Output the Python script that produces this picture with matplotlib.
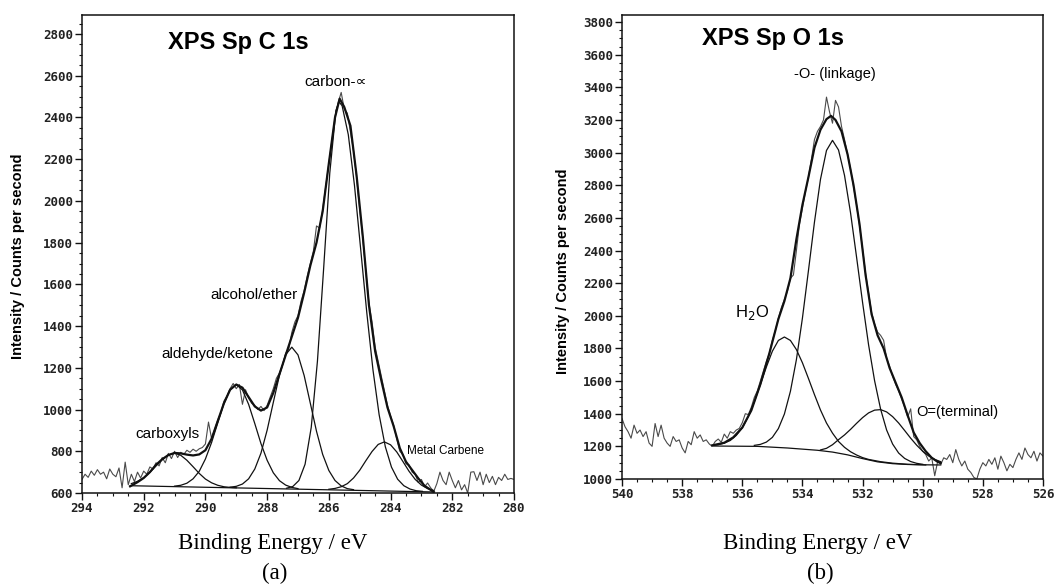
import numpy as np
import matplotlib
matplotlib.use('Agg')
import matplotlib.pyplot as plt
from matplotlib.ticker import MultipleLocator

# ---------------- panel (a): C 1s ----------------
c_raw_x = np.round(np.linspace(294.0, 280.0, 141), 1)
c_raw_y = [
    665, 690, 675, 705, 685, 712, 690, 700, 668, 715,
    690, 678, 720, 625, 748, 640, 690, 655, 700, 672,
    705, 690, 725, 715, 745, 730, 770, 745, 790, 765,
    800, 770, 795, 785, 805, 795, 810, 800, 812, 818,
    835, 940, 860, 905, 950, 985, 1040, 1065, 1100, 1125,
    1100, 1120, 1025, 1095, 1055, 1030, 1020, 1000, 1015, 995,
    1020, 1060, 1100, 1150, 1175, 1215, 1270, 1290, 1370, 1420,
    1450, 1520, 1570, 1640, 1700, 1760, 1880, 1870, 1960, 2070,
    2180, 2290, 2400, 2470, 2520, 2440, 2420, 2330, 2240, 2110,
    1960, 1820, 1660, 1510, 1420, 1300, 1230, 1160, 1090, 1020,
    970, 925, 860, 800, 785, 740, 735, 700, 690, 650,
    665, 630, 648, 625, 608, 645, 700, 660, 640, 700,
    660, 625, 660, 615, 640, 600, 700, 702, 660, 700,
    640, 690, 650, 680, 640, 675, 660, 690, 665, 670,
    665,
]

c_env_x = [292.44, 292.2, 292.0, 291.8, 291.6, 291.4, 291.2, 291.0, 290.8, 290.6,
           290.4, 290.2, 290.0, 289.8, 289.6, 289.4, 289.2, 289.0, 288.8, 288.6,
           288.4, 288.2, 288.0, 287.8, 287.6, 287.4, 287.2, 287.0, 286.8, 286.6,
           286.4, 286.2, 286.0, 285.8, 285.65, 285.5, 285.3, 285.1, 284.9, 284.7,
           284.5, 284.3, 284.1, 283.9, 283.7, 283.5, 283.3, 283.1, 282.9, 282.6]
c_env_y = [632, 652, 672, 700, 735, 762, 782, 792, 790, 784,
           780, 785, 805, 860, 945, 1030, 1095, 1120, 1105, 1060,
           1015, 995, 1010, 1080, 1170, 1260, 1350, 1440, 1560, 1690,
           1800, 1950, 2180, 2400, 2490, 2450, 2360, 2120, 1830, 1500,
           1280, 1140, 1010, 920, 815, 750, 710, 670, 635, 605]

c_base_x = [292.44, 282.6]
c_base_y = [635, 605]

carboxyl_x = [292.4, 292.2, 292.0, 291.8, 291.6, 291.4, 291.2, 291.0, 290.8, 290.6,
              290.4, 290.2, 290.0, 289.8, 289.6, 289.4, 289.2, 289.0]
carboxyl_y = [645, 656, 673, 699, 730, 760, 782, 791, 781, 757,
              726, 694, 667, 649, 637, 630, 627, 625]

aldehyde_x = [291.0, 290.8, 290.6, 290.4, 290.2, 290.0, 289.8, 289.6, 289.4, 289.2,
              289.0, 288.8, 288.6, 288.4, 288.2, 288.0, 287.8, 287.6, 287.4, 287.2, 287.0]
aldehyde_y = [633, 637, 647, 668, 704, 763, 842, 936, 1028, 1095,
              1120, 1094, 1025, 933, 837, 757, 697, 659, 638, 627, 621]

alcohol_x = [289.2, 289.0, 288.8, 288.6, 288.4, 288.2, 288.0, 287.8, 287.6, 287.4,
             287.2, 287.0, 286.8, 286.6, 286.4, 286.2, 286.0, 285.8, 285.6, 285.4, 285.2]
alcohol_y = [628, 632, 643, 668, 715, 791, 901, 1034, 1165, 1263,
             1299, 1262, 1163, 1030, 896, 785, 708, 660, 634, 621, 616]

carbon_x = [287.37, 287.17, 286.97, 286.77, 286.57, 286.37, 286.17, 285.97, 285.77, 285.67,
            285.57, 285.37, 285.17, 284.97, 284.77, 284.57, 284.37, 284.17, 283.97, 283.77,
            283.57, 283.37, 283.17, 282.97]
carbon_y = [623, 631, 660, 738, 915, 1231, 1673, 2133, 2434, 2475,
            2456, 2318, 2075, 1771, 1464, 1190, 975, 822, 724, 666,
            635, 619, 611, 608]

carbene_x = [286.0, 285.8, 285.6, 285.4, 285.2, 285.0, 284.8, 284.6, 284.4, 284.2,
             284.0, 283.8, 283.6, 283.4, 283.2, 283.0, 282.8, 282.6]
carbene_y = [618, 622, 630, 645, 672, 709, 755, 799, 833, 845,
             831, 797, 751, 704, 665, 638, 621, 612]

c_xticks = [294, 292, 290, 288, 286, 284, 282, 280]
c_yticks = [600, 800, 1000, 1200, 1400, 1600, 1800, 2000, 2200, 2400, 2600, 2800]

# ---------------- panel (b): O 1s ----------------
o_raw_x = np.round(np.linspace(540.0, 526.0, 141), 1)
o_raw_y = [
    1370, 1320, 1290, 1250, 1330, 1280, 1300, 1260, 1290, 1220,
    1200, 1340, 1260, 1330, 1250, 1220, 1200, 1260, 1230, 1240,
    1190, 1160, 1230, 1210, 1290, 1250, 1270, 1230, 1240, 1215,
    1200, 1230, 1245, 1225, 1275, 1250, 1290, 1280, 1300, 1310,
    1345, 1400, 1395, 1440, 1500, 1540, 1600, 1660, 1720, 1770,
    1850, 1910, 1985, 2050, 2100, 2150, 2230, 2250, 2400, 2560,
    2660, 2760, 2850, 2960, 3080, 3130, 3160, 3200, 3340, 3250,
    3180, 3320, 3280, 3160, 3080, 2990, 2900, 2790, 2680, 2550,
    2410, 2260, 2140, 2020, 1950, 1900, 1880, 1850, 1740, 1690,
    1630, 1580, 1540, 1490, 1440, 1380, 1430, 1260, 1240, 1200,
    1170, 1150, 1110, 1130, 1020, 1110, 1090, 1130, 1120, 1150,
    1100, 1180, 1120, 1080, 1110, 1060, 1040, 1010, 1000, 1060,
    1100, 1080, 1120, 1090, 1130, 1060, 1140, 1100, 1050, 1090,
    1070, 1120, 1160, 1120, 1190, 1150, 1130, 1170, 1110, 1160,
    1140,
]

o_env_x = [537.0, 536.6, 536.3, 536.0, 535.7, 535.4, 535.1, 534.8, 534.6, 534.4,
           534.2, 534.0, 533.8, 533.6, 533.4, 533.2, 533.05, 532.9, 532.7, 532.5,
           532.3, 532.1, 531.9, 531.7, 531.5, 531.3, 531.1, 530.9, 530.7, 530.5,
           530.3, 530.1, 529.9, 529.7, 529.5, 529.4]
o_env_y = [1206, 1222, 1255, 1315, 1420, 1580, 1770, 1980, 2090, 2230,
           2470, 2680, 2850, 3030, 3140, 3205, 3225, 3200, 3130, 2990,
           2800, 2560, 2250, 2010, 1880, 1800, 1680, 1590, 1500, 1390,
           1285, 1220, 1170, 1130, 1105, 1098]

o_base_x = [536.95, 535.5, 534.5, 533.5, 533.0, 532.5, 532.0, 531.5, 531.0, 530.5,
            530.0, 529.4]
o_base_y = [1202, 1200, 1190, 1176, 1165, 1148, 1125, 1105, 1094, 1089,
            1087, 1086]

water_x = [537.0, 536.8, 536.6, 536.4, 536.2, 536.0, 535.8, 535.6, 535.4, 535.2,
           535.0, 534.8, 534.6, 534.4, 534.2, 534.0, 533.8, 533.6, 533.4, 533.2,
           533.0, 532.8, 532.6, 532.4, 532.2, 532.0, 531.8, 531.4, 531.0, 530.5,
           530.0, 529.9]
water_y = [1206, 1210, 1220, 1236, 1267, 1314, 1383, 1473, 1578, 1686,
           1783, 1849, 1870, 1849, 1793, 1712, 1616, 1517, 1423, 1343,
           1281, 1230, 1194, 1167, 1147, 1131, 1120, 1106, 1097, 1090,
           1087, 1086]

linkage_x = [535.6, 535.4, 535.2, 535.0, 534.8, 534.6, 534.4, 534.2, 534.0, 533.8,
             533.6, 533.4, 533.2, 533.0, 532.8, 532.6, 532.4, 532.2, 532.0, 531.8,
             531.6, 531.4, 531.2, 531.0, 530.8, 530.6, 530.4, 530.2, 530.0]
linkage_y = [1206, 1212, 1226, 1255, 1309, 1398, 1537, 1732, 1986, 2277,
             2574, 2836, 3013, 3075, 3016, 2860, 2631, 2360, 2082, 1822,
             1602, 1428, 1300, 1214, 1159, 1126, 1107, 1096, 1090]

terminal_x = [533.4, 533.2, 533.0, 532.8, 532.6, 532.4, 532.2, 532.0, 531.8, 531.6,
              531.4, 531.2, 531.0, 530.8, 530.6, 530.4, 530.2, 530.0, 529.8, 529.6, 529.4]
terminal_y = [1178, 1188, 1210, 1241, 1270, 1304, 1341, 1376, 1405, 1422,
              1425, 1411, 1382, 1343, 1297, 1250, 1207, 1170, 1141, 1120, 1106]

o_xticks = [540, 538, 536, 534, 532, 530, 528, 526]
o_yticks = [1000, 1200, 1400, 1600, 1800, 2000, 2200, 2400, 2600, 2800,
            3000, 3200, 3400, 3600, 3800]

RAW = '#4a4a4a'
INK = '#111111'
SANS = ['Liberation Sans', 'DejaVu Sans']
SERIF = ['Liberation Serif', 'DejaVu Serif']


def style_axes(ax, xticks, yticks):
    ax.set_xticks(xticks)
    ax.set_yticks(yticks)
    ax.xaxis.set_minor_locator(MultipleLocator(0.5))
    ax.yaxis.set_minor_locator(MultipleLocator(50))
    ax.tick_params(which='major', direction='out', length=5, width=1.0,
                   labelsize=9, pad=1.5, color=INK)
    ax.tick_params(which='minor', direction='out', length=2.5, width=0.8, color=INK)
    for sp in ax.spines.values():
        sp.set_linewidth(1.1)
        sp.set_color(INK)
    for lab in ax.get_xticklabels() + ax.get_yticklabels():
        lab.set_fontfamily('DejaVu Sans Mono')
        lab.set_fontweight('bold')
        lab.set_color('#222222')


def create_figure():
    fig = plt.figure(figsize=(10.55, 5.84), dpi=100)
    fig.patch.set_facecolor('white')

    # ---- (a) ----
    ax_c = fig.add_axes([0.0777, 0.1558, 0.4095, 0.8185])
    ax_c.plot(c_raw_x, c_raw_y, color=RAW, lw=0.8)
    ax_c.plot(c_base_x, c_base_y, color=INK, lw=0.9)
    for xs, ys in [(carboxyl_x, carboxyl_y), (aldehyde_x, aldehyde_y),
                   (alcohol_x, alcohol_y), (carbon_x, carbon_y),
                   (carbene_x, carbene_y)]:
        ax_c.plot(xs, ys, color=INK, lw=0.9)
    ax_c.plot(c_env_x, c_env_y, color=INK, lw=1.6)
    ax_c.set_xlim(294, 280)
    ax_c.set_ylim(600, 2891)
    style_axes(ax_c, c_xticks, c_yticks)

    ax_c.text(285.77, 2570, 'carbon-\u221d', ha='center', va='center',
              fontsize=11, family=SANS)
    ax_c.text(288.44, 1550, 'alcohol/ether', ha='center', va='center',
              fontsize=11, family=SANS)
    ax_c.text(289.61, 1268, 'aldehyde/ketone', ha='center', va='center',
              fontsize=11, family=SANS)
    ax_c.text(291.24, 885, 'carboxyls', ha='center', va='center',
              fontsize=11, family=SANS)
    ax_c.text(282.23, 800, 'Metal Carbene', ha='center', va='center',
              fontsize=8.5, family=SANS)

    fig.text(238 / 1055, 1 - 42 / 584, 'XPS Sp C 1s', ha='center', va='center',
             fontsize=17, fontweight='bold', family=SANS)
    fig.text(18 / 1055, 1 - 256 / 584, 'Intensity / Counts per second',
             rotation=90, ha='center', va='center', fontsize=10.5,
             fontweight='bold', family=SANS)
    fig.text(273 / 1055, 1 - 543 / 584, 'Binding Energy / eV', ha='center',
             va='center', fontsize=16.5, family=SERIF)
    fig.text(275 / 1055, 1 - 573 / 584, '(a)', ha='center', va='center',
             fontsize=16.5, family=SERIF)

    # ---- (b) ----
    ax_o = fig.add_axes([0.5896, 0.1798, 0.3990, 0.7945])
    ax_o.plot(o_raw_x, o_raw_y, color=RAW, lw=0.8)
    ax_o.plot(o_base_x, o_base_y, color=INK, lw=0.9)
    for xs, ys in [(water_x, water_y), (linkage_x, linkage_y),
                   (terminal_x, terminal_y)]:
        ax_o.plot(xs, ys, color=INK, lw=0.9)
    ax_o.plot(o_env_x, o_env_y, color=INK, lw=1.6)
    ax_o.set_xlim(540, 526)
    ax_o.set_ylim(1000, 3843)
    style_axes(ax_o, o_xticks, o_yticks)

    ax_o.text(532.93, 3480, '-O- (linkage)', ha='center', va='center',
              fontsize=10.5, family=SANS)
    ax_o.text(535.66, 2020, 'H$_2$O', ha='center', va='center',
              fontsize=12, family=SANS)
    ax_o.text(530.2, 1410, 'O=(terminal)', ha='left', va='center',
              fontsize=10.5, family=SANS)

    fig.text(773 / 1055, 1 - 38 / 584, 'XPS Sp O 1s', ha='center', va='center',
             fontsize=17, fontweight='bold', family=SANS)
    fig.text(563 / 1055, 1 - 271 / 584, 'Intensity / Counts per second',
             rotation=90, ha='center', va='center', fontsize=10.5,
             fontweight='bold', family=SANS)
    fig.text(818 / 1055, 1 - 543 / 584, 'Binding Energy / eV', ha='center',
             va='center', fontsize=16.5, family=SERIF)
    fig.text(820 / 1055, 1 - 573 / 584, '(b)', ha='center', va='center',
             fontsize=16.5, family=SERIF)

    fig.savefig('out.png', dpi=100, facecolor='white')
    plt.close(fig)


if __name__ == '__main__':
    create_figure()
